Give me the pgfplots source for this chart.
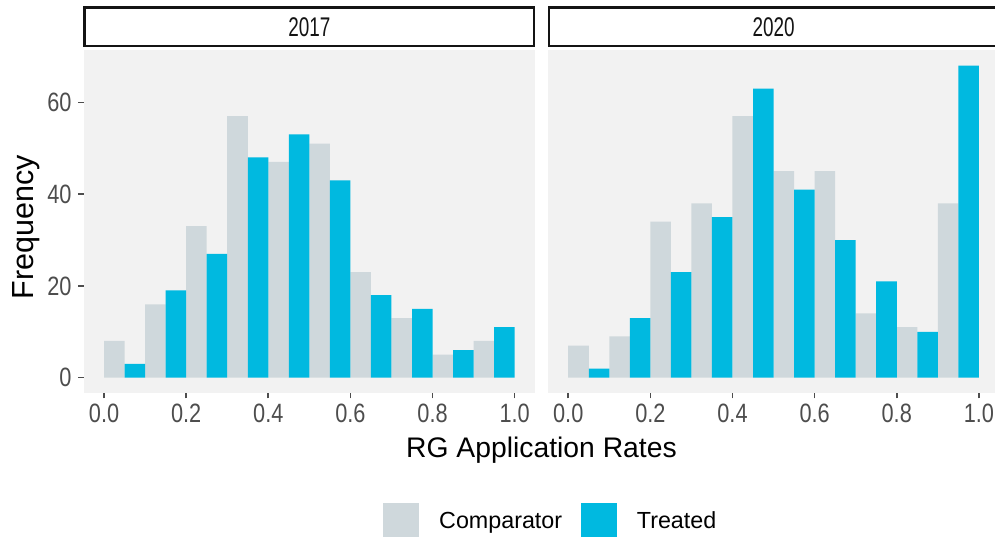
\documentclass[border=0pt]{standalone}
\usepackage{pgfplots}
\usepackage{pgfplotstable}
\pgfplotsset{compat=1.18}
\usepackage{fontspec}
\setmainfont{Liberation Sans}
\newfontfamily\tickfont{Liberation Sans}[FakeStretch=0.82]
\newfontfamily\stripfont{Liberation Sans}[FakeStretch=0.70]
\definecolor{compc}{HTML}{CFD8DC}
\definecolor{treatc}{HTML}{00B9E0}
\definecolor{panelbg}{HTML}{F2F2F2}
\definecolor{tickc}{HTML}{4D4D4D}
\definecolor{stripc}{HTML}{141414}

% 2017: bins of width 0.1, comparator left half, treated right half
\pgfplotstableread{
xc    xt    comp treat
0.025 0.075 8  3
0.125 0.175 16 19
0.225 0.275 33 27
0.325 0.375 57 48
0.425 0.475 47 53
0.525 0.575 51 43
0.625 0.675 23 18
0.725 0.775 13 15
0.825 0.875 5  6
0.925 0.975 8  11
}\dataA
% 2020
\pgfplotstableread{
xc    xt    comp treat
0.025 0.075 7  2
0.125 0.175 9  13
0.225 0.275 34 23
0.325 0.375 38 35
0.425 0.475 57 63
0.525 0.575 45 41
0.625 0.675 45 30
0.725 0.775 14 21
0.825 0.875 11 10
0.925 0.975 38 68
}\dataB

\pgfplotsset{
  panel/.style={
    scale only axis, width=451.7pt, height=343.3pt,
    anchor=south west,
    xmin=-0.05, xmax=1.05, ymin=-3.4, ymax=71.4,
    axis line style={draw=none},
    axis background/.style={fill=panelbg},
    tick align=outside, xtick pos=bottom, ytick pos=left,
    major tick length=5.2pt,
    tick style={color=tickc, line width=1.6pt},
    xtick={0,0.2,0.4,0.6,0.8,1},
    xticklabels={0.0,0.2,0.4,0.6,0.8,1.0},
    xticklabel style={font=\tickfont\fontsize{26.5}{26.5}\selectfont, text=tickc, inner sep=0pt, anchor=north, yshift=-5.7pt},
    ybar,
    every axis title shift=0pt,
    title style={at={(axis description cs:0.5,1)}, anchor=south, yshift=2.6pt,
      draw=stripc, line width=2.2pt, fill=white, minimum width=449.5pt,
      minimum height=38.8pt, inner sep=0pt, text depth=0pt,
      font=\stripfont\fontsize{27}{27}\selectfont, text=stripc},
  }
}

\begin{document}
\begin{tikzpicture}
\begin{axis}[panel, at={(83.5pt,143.7pt)},
  title={2017},
  ytick={0,20,40,60}, yticklabels={0,20,40,60},
  yticklabel style={font=\tickfont\fontsize{26.5}{26.5}\selectfont, text=tickc, inner sep=0pt, anchor=east, xshift=-6.6pt},
  ylabel={Frequency},
  ylabel style={at={(axis description cs:-0.1111,0.4831)}, anchor=base, inner sep=0pt, font=\fontsize{30.5}{30.5}\selectfont, text=black},
  xlabel={RG Application Rates},
  xlabel style={at={(axis description cs:1.0139,-0.1864)}, anchor=base, inner sep=0pt, font=\fontsize{28.3}{28.3}\selectfont, text=black},
  legend style={at={(axis description cs:0.6630,-0.3720)}, anchor=west, draw=none, fill=none,
    inner sep=0pt, legend columns=2,
    nodes={inner sep=0pt, font=\fontsize{23.3}{23.3}\selectfont, text=black},
    /tikz/every odd column/.append style={column sep=20pt},
    /tikz/every even column/.append style={column sep=18.7pt}},
]
\addplot[fill=compc, draw=none, bar shift=0pt, bar width=0.05,
  legend image code/.code={\fill[compc] (0pt,-18pt) rectangle (36pt,18pt);}]
  table[x=xc, y=comp] {\dataA};
\addlegendentry{Comparator}
\addplot[fill=treatc, draw=none, bar shift=0pt, bar width=0.05,
  legend image code/.code={\fill[treatc] (0pt,-18pt) rectangle (36pt,18pt);}]
  table[x=xt, y=treat] {\dataA};
\addlegendentry{Treated}
\end{axis}
\begin{axis}[panel, at={(547.7pt,143.7pt)},
  title={2020},
  ytick=\empty,
]
\addplot[fill=compc, draw=none, bar shift=0pt, bar width=0.05] table[x=xc, y=comp] {\dataB};
\addplot[fill=treatc, draw=none, bar shift=0pt, bar width=0.05] table[x=xt, y=treat] {\dataB};
\end{axis}
\pgfresetboundingbox
\useasboundingbox (0pt,0pt) rectangle (995pt,537pt);
\end{tikzpicture}
\end{document}
